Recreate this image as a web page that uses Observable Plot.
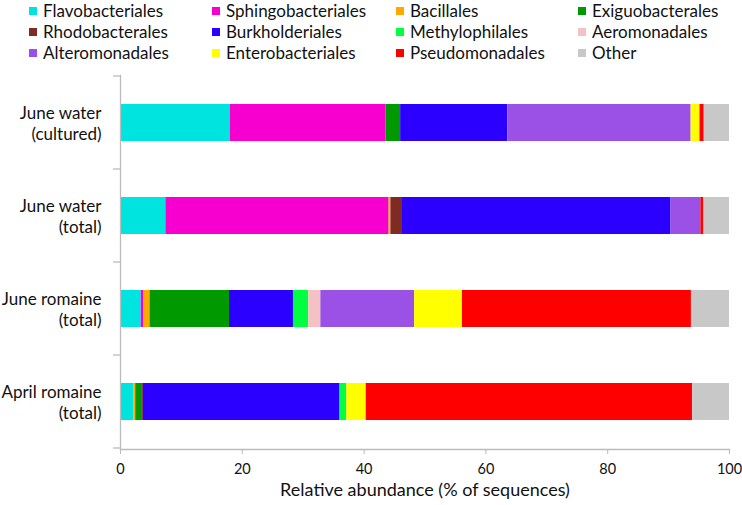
<!DOCTYPE html>
<html><head><meta charset="utf-8">
<script src="https://cdn.jsdelivr.net/npm/d3@7"></script>
<script src="https://cdn.jsdelivr.net/npm/@observablehq/plot@0.6"></script>
<style>
body{margin:0;background:#fff;font-family:Lato,"Open Sans",sans-serif;}
#wrap{width:742px;}
#legend{position:relative;height:65px;width:742px;}
.li{position:absolute;display:flex;align-items:center;font-size:17px;line-height:21px;color:#111;height:21px;white-space:nowrap;}
.sw{display:inline-block;width:8px;height:8px;margin-right:6px;}
</style>
</head><body>
<div id="wrap"><div id="legend"></div><div id="chart"></div></div>
<script>
const orders = ["Flavobacteriales","Sphingobacteriales","Bacillales","Exiguobacterales",
  "Rhodobacterales","Burkholderiales","Methylophilales","Aeromonadales",
  "Alteromonadales","Enterobacteriales","Pseudomonadales","Other"];
const colors = ["#00E4E0","#F700CF","#FFAA00","#009900",
  "#7F2A22","#2B00FF","#00FF40","#F4C2C2",
  "#9B51E6","#FFFF00","#FF0000","#C8C8C8"];
const samples = ["June water\n(cultured)","June water\n(total)","June romaine\n(total)","April romaine\n(total)"];
const juneWaterCultured = [18.0,25.6,0,2.4,0,17.6,0,0,30.1,1.45,0.7,4.15];
const juneWaterTotal    = [7.45,36.65,0.3,0,1.9,44.1,0,0,4.9,0,0.5,4.2];
const juneRomaineTotal  = [3.4,0.45,1.0,13.05,0,10.5,2.5,2.0,15.4,7.85,37.6,6.25];
const aprilRomaineTotal = [2.2,0,0.3,1.1,0.15,32.3,1.1,0,0,3.2,53.6,6.05];
const xTicks = [0,20,40,60,80,100];
const xTitle = "Relative abundance (% of sequences)";

const values = [juneWaterCultured, juneWaterTotal, juneRomaineTotal, aprilRomaineTotal];
const data = samples.flatMap((s,i) => orders.map((o,j) => ({sample:s, order:o, value:values[i][j]})))
  .filter(d => d.value > 0);

// legend
const leg = document.getElementById("legend");
const colLeft = [29,212,396,578];
orders.forEach((o,i) => {
  const el = document.createElement("div");
  el.className = "li";
  el.style.left = colLeft[i%4] + "px";
  el.style.top = (0 + Math.floor(i/4)*21) + "px";
  el.innerHTML = `<span class="sw" style="background:${colors[i]}"></span><span>${o}</span>`;
  leg.appendChild(el);
});

const plot = Plot.plot({
  width: 742, height: 440,
  marginTop: 10, marginBottom: 56, marginLeft: 120, marginRight: 13,
  style: {fontFamily: "Lato, 'Open Sans', sans-serif", fontSize: "17px", color: "#111", background: "#fff"},
  x: {domain: [0,100]},
  y: {domain: samples, paddingInner: 0.6, paddingOuter: 0.3},
  color: {domain: orders, range: colors},
  marks: [
    Plot.barX(data, {x: "value", y: "sample", fill: "order"}),
    Plot.frame({anchor: "left", stroke: "#bbb", strokeWidth: 1.3}),
    Plot.frame({anchor: "bottom", stroke: "#bbb", strokeWidth: 1.3}),
    Plot.axisX({ticks: xTicks, tickSize: 5, tickPadding: 9, stroke: "#bbb", fill: "#111",
      fontSize: 14.5, label: null}),
    Plot.text([xTitle], {frameAnchor: "bottom", dy: 46, fontSize: 18, fill: "#111"}),
    Plot.axisY({tickSize: 0, tickPadding: 19, label: null, lineHeight: 1.25, fontSize: 17, fill: "#111"})
  ]
});

// category boundary ticks on the y axis, from the plot's own scales
const ys = plot.scale("y"), xs = plot.scale("x");
const x0 = xs.apply(0);
const half = (ys.step - ys.bandwidth) / 2;
const bounds = samples.map(s => ys.apply(s) - half)
  .concat([ys.apply(samples[samples.length-1]) + ys.bandwidth + half]);
d3.select(plot).append("g").attr("stroke","#bbb").attr("stroke-width",1.3)
  .selectAll("line").data(bounds).join("line")
  .attr("x1", x0 - 7).attr("x2", x0).attr("y1", d => d).attr("y2", d => d);

document.getElementById("chart").appendChild(plot);
</script>
</body></html>
